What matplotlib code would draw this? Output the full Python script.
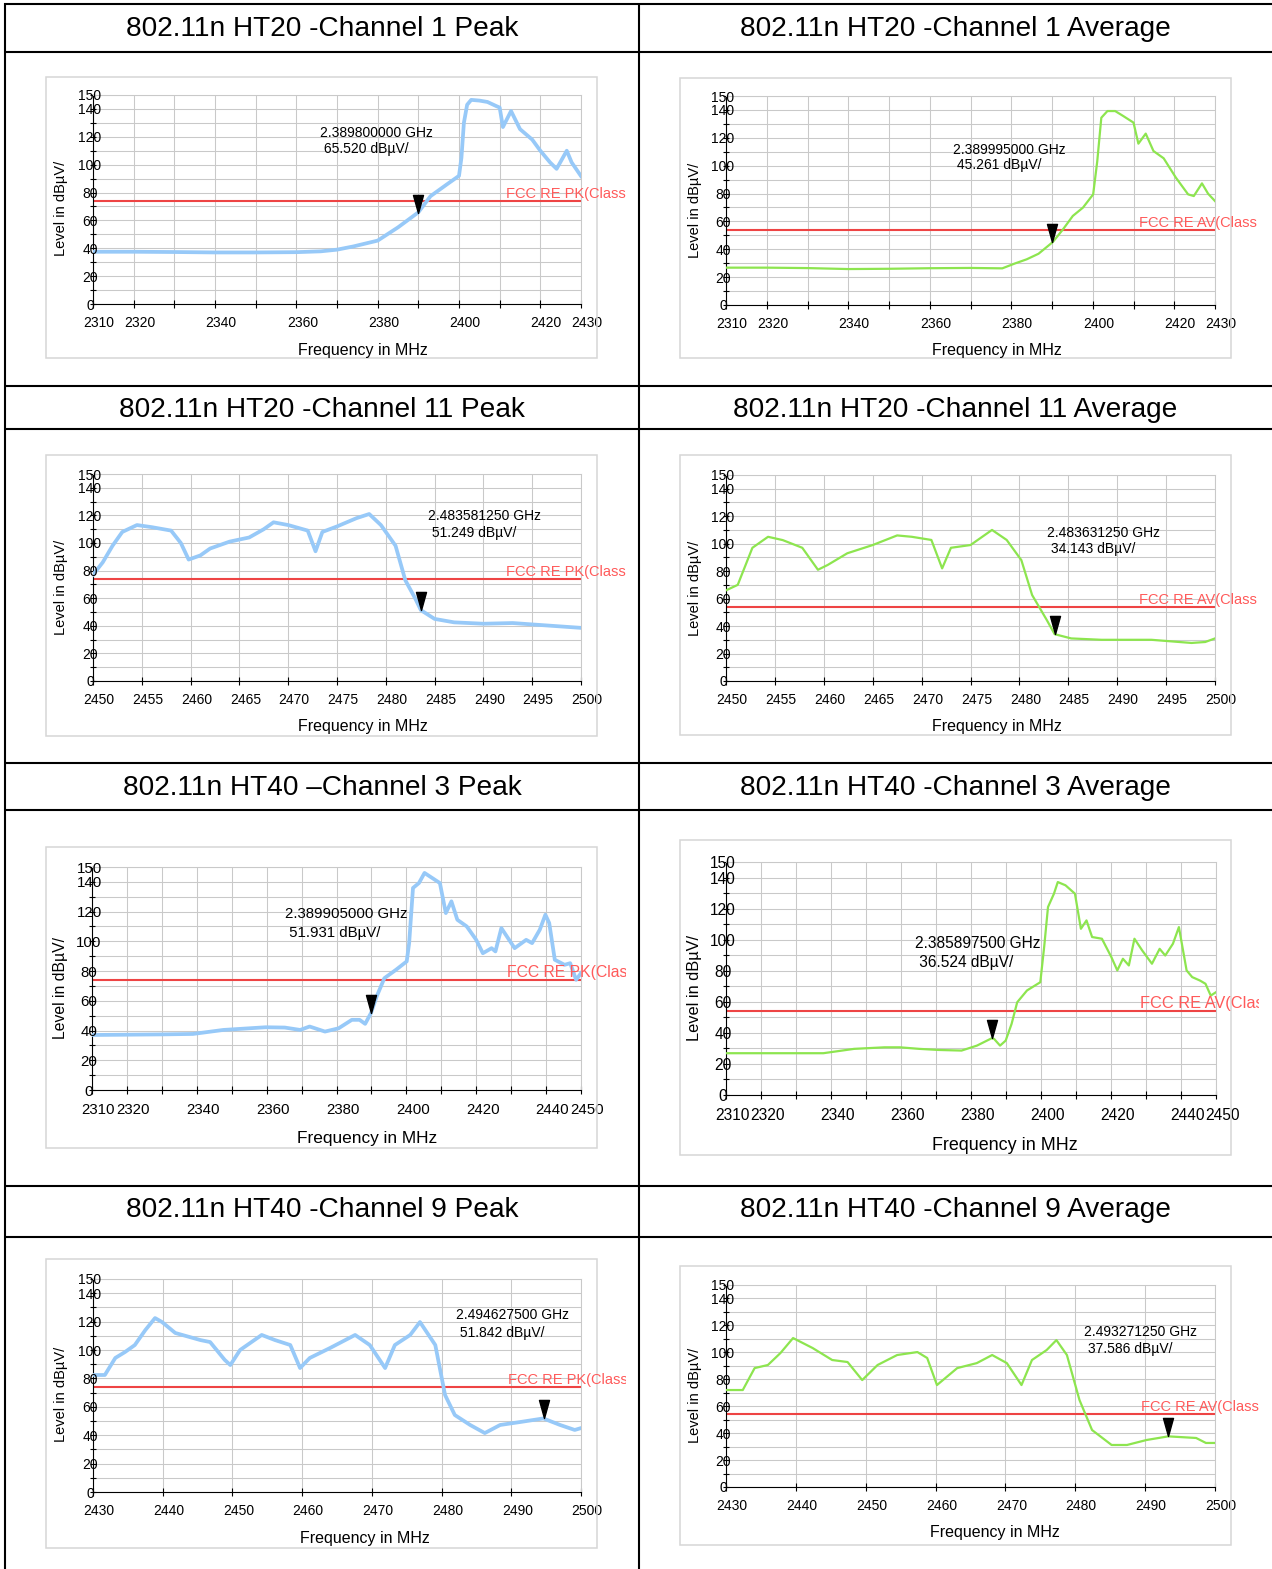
import numpy as np
import matplotlib.pyplot as plt
from matplotlib.path import Path
from matplotlib.patches import Rectangle
from matplotlib.transforms import (ScaledTranslation, Bbox, TransformedBbox,
                                   blended_transform_factory)

plt.rcParams['font.family'] = ['Liberation Sans', 'DejaVu Sans']

W, H, DPI = 1272, 1569, 100

titles = [
    '802.11n HT20 -Channel 1 Peak', '802.11n HT20 -Channel 1 Average',
    '802.11n HT20 -Channel 11 Peak', '802.11n HT20 -Channel 11 Average',
    '802.11n HT40 \u2013Channel 3 Peak', '802.11n HT40 -Channel 3 Average',
    '802.11n HT40 -Channel 9 Peak', '802.11n HT40 -Channel 9 Average',
]

# x tick labels (MHz) and y tick labels (dBuV)
xt_ht20_low = [2310, 2320, 2340, 2360, 2380, 2400, 2420, 2430]
xt_ht20_high = [2450, 2455, 2460, 2465, 2470, 2475, 2480, 2485, 2490, 2495, 2500]
xt_ht40_low = [2310, 2320, 2340, 2360, 2380, 2400, 2420, 2440, 2450]
xt_ht40_high = [2430, 2440, 2450, 2460, 2470, 2480, 2490, 2500]
yt_labels = [0, 20, 40, 60, 80, 100, 120, 140, 150]

limit_pk = 74.0
limit_av = 54.0

# measured traces: frequency in MHz, level in dBuV
ht20_ch1_pk_f = [2310, 2320, 2330, 2340, 2350, 2360, 2366, 2370, 2374, 2380, 2385, 2390,
                 2393, 2397, 2400, 2400.6, 2401.2, 2402, 2403, 2405, 2407, 2409.2, 2410,
                 2410.8, 2412.8, 2415, 2418, 2420, 2422.4, 2424, 2426.5, 2427.7, 2430]
ht20_ch1_pk_v = [37.5, 37.5, 37.3, 37.0, 37.0, 37.2, 37.8, 39.0, 41.3, 45.5, 55.0, 65.8,
                 77.4, 85.8, 92.0, 105, 130, 143, 146.5, 146, 145, 142, 141,
                 127, 138.5, 125.5, 118, 110, 101.6, 97, 110, 101.6, 91.8]

ht20_ch1_av_f = [2310, 2320, 2330, 2340, 2350, 2360, 2370, 2377.8, 2380.8, 2383.8, 2386.7,
                 2390.2, 2392.7, 2395.1, 2397.6, 2400.1, 2401.1, 2402.1, 2403.6, 2405.5,
                 2407.5, 2410, 2411.2, 2413, 2414.9, 2417.4, 2420.4, 2423.4, 2424.8,
                 2426.8, 2428.3, 2430]
ht20_ch1_av_v = [26.8, 26.8, 26.5, 25.8, 26.0, 26.4, 26.6, 26.3, 29.7, 32.8, 36.8,
                 45.2, 54.3, 63.9, 69.9, 79.4, 103, 134.4, 139.2, 139.2,
                 135.6, 130.9, 115.8, 123, 110.5, 105.3, 91.4, 79.4, 78.2,
                 87.3, 79.9, 74.6]

ht20_ch11_pk_f = [2450, 2451, 2452, 2453, 2454.5, 2456, 2458, 2459, 2459.8, 2461, 2462,
                  2464, 2466, 2467.5, 2468.5, 2470, 2472, 2472.8, 2473.5, 2475, 2477,
                  2478.3, 2479.5, 2481, 2482, 2483, 2483.6, 2485, 2487, 2490, 2493,
                  2495, 2497, 2500]
ht20_ch11_pk_v = [77, 86, 98, 108, 113, 111.5, 109, 100, 88, 91, 96,
                  101, 104, 110, 115, 113, 109, 94, 108, 112, 118,
                  121, 113, 98, 73, 60, 51.3, 45, 42.5, 41.5, 42,
                  41, 40, 38.5]

ht20_ch11_av_f = [2450, 2451.2, 2452.7, 2454.3, 2455.8, 2457.8, 2459.4, 2460.4, 2462.4,
                  2465, 2467.5, 2469, 2471, 2472.1, 2473, 2475, 2477.2, 2478.7, 2480.2,
                  2481.3, 2482.8, 2483.6, 2485.3, 2488.4, 2493.5, 2497.6, 2499, 2500]
ht20_ch11_av_v = [66, 70, 97, 105, 102.6, 97, 81, 84.5, 93,
                  99, 106, 105, 102.7, 82, 97, 99, 110, 102.7, 88,
                  62.6, 44.4, 34.1, 31, 30, 30, 27.7, 28.4, 31]

ht40_ch3_pk_f = [2310, 2320, 2330, 2338.9, 2347.6, 2359.7, 2365.2, 2369.6, 2372.3, 2376.7,
                 2380.6, 2384.4, 2386.6, 2388.2, 2389.9, 2391.5, 2393.7, 2397, 2400.1,
                 2400.8, 2401.9, 2403.6, 2405.2, 2407.4, 2409.6, 2411.3, 2412.9, 2414.6,
                 2417.3, 2420, 2421.9, 2424.4, 2425.5, 2427.2, 2431, 2434.3, 2436, 2438.2,
                 2439.8, 2440.9, 2442.5, 2445.3, 2446.9, 2448.6, 2450]
ht40_ch3_pk_v = [37, 37.2, 37.4, 37.7, 40.4, 42.2, 42, 40.4, 42.7, 39.3,
                 41.5, 47.2, 47.2, 44.5, 51.9, 62.9, 75.2, 80.8, 86.5,
                 98.8, 135.9, 139.2, 146, 142.6, 139.2, 119, 126.9, 114.5,
                 110, 101, 92, 95.4, 93.2, 108.9, 95.4, 101, 98.8, 107.8,
                 117.9, 112.3, 87.6, 84.2, 85.3, 74.1, 78.6]

ht40_ch3_av_f = [2310, 2320, 2330, 2337.8, 2346.6, 2355.3, 2359.7, 2365.2, 2370.7, 2377.3,
                 2381.7, 2385, 2385.9, 2386.6, 2388.3, 2389.9, 2391.6, 2393.2, 2396,
                 2399.8, 2400.9, 2402, 2403.7, 2404.8, 2407, 2409.7, 2411.4, 2413,
                 2414.6, 2417.4, 2420.1, 2421.8, 2423.4, 2425.1, 2426.7, 2428.9, 2431.7,
                 2433.9, 2435.5, 2437.7, 2439.4, 2441.6, 2443.2, 2445.4, 2447, 2448.5,
                 2450]
ht40_ch3_av_v = [26.9, 26.9, 26.9, 26.9, 29.7, 30.7, 30.7, 29.7, 29, 28.6,
                 31.8, 35.5, 36.5, 36.1, 31.8, 35, 45.8, 59.7, 67.3,
                 72.6, 95.2, 121, 129.6, 137.1, 135, 129.6, 107, 112.4,
                 101.7, 100.6, 88.8, 80.2, 87.7, 83.4, 100.6, 93.1, 84.5,
                 94.1, 89.8, 97.4, 108.1, 80.2, 75.9, 73.7, 71.6, 64,
                 66.2]

ht40_ch9_pk_f = [2430, 2431.7, 2433.2, 2434.6, 2436, 2437.5, 2438.9, 2439.9, 2441.8,
                 2445.4, 2446.8, 2448.9, 2449.7, 2451.1, 2454.2, 2456.1, 2458.3, 2459.7,
                 2461.1, 2464, 2467.6, 2469.7, 2471.9, 2473.3, 2475.5, 2476.9, 2479.1,
                 2480.5, 2481.9, 2484.1, 2486.2, 2488.4, 2491.3, 2494.6, 2497, 2499.1,
                 2500]
ht40_ch9_pk_v = [82.4, 82.4, 94.4, 98.6, 103.5, 114, 122.5, 119.7, 112,
                 107, 105.6, 93, 89.4, 100, 110.6, 107, 103.5, 87.3,
                 94.4, 101.4, 110.6, 103.5, 87.3, 103.5, 110.6, 119.7, 103.5,
                 68.3, 54.2, 47.2, 41.5, 47.2, 49.3, 51.8, 47.2, 43.7,
                 45]

ht40_ch9_av_f = [2430, 2432.4, 2434.1, 2436, 2437.8, 2439.6, 2442.4, 2445.2, 2447.4,
                 2449.5, 2451.7, 2454.5, 2457.4, 2458.8, 2460.2, 2463.1, 2465.9, 2468.1,
                 2470.2, 2472.3, 2473.8, 2475.9, 2477.3, 2478.8, 2480.6, 2482.4, 2485.2,
                 2487.4, 2490.2, 2493.3, 2497.3, 2498.7, 2500]
ht40_ch9_av_v = [72, 72, 88.3, 90.6, 99.5, 110.6, 103.2, 94.3, 92.8,
                 79.4, 90.6, 98, 100.2, 95.8, 75.7, 88.3, 92, 98,
                 92, 75.7, 94.3, 101.7, 109.1, 98, 64.6, 42.3, 31.2,
                 31.2, 34.9, 37.6, 36.4, 32.7, 32.7]

# marker readouts: (MHz, dBuV)
mk_ht20_ch1_pk = (2389.8, 65.520)
mk_ht20_ch1_av = (2389.995, 45.261)
mk_ht20_ch11_pk = (2483.58125, 51.249)
mk_ht20_ch11_av = (2483.63125, 34.143)
mk_ht40_ch3_pk = (2389.905, 51.931)
mk_ht40_ch3_av = (2385.8975, 36.524)
mk_ht40_ch9_pk = (2494.6275, 51.842)
mk_ht40_ch9_av = (2493.27125, 37.586)

BLUE = '#97c9f8'
GREEN = '#8de54f'
RED = '#ee4444'
RED_TXT = '#ff5a5a'
GRID = '#c9c9c9'
BOX = '#d6d6d6'

PK = dict(color=BLUE, lw=2.7, limit=limit_pk, lim_label='FCC RE PK(Class')
AV = dict(color=GREEN, lw=1.6, limit=limit_av, lim_label='FCC RE AV(Class')

# pixel layout of each panel: axes / frame (l, t, r, b), text anchors, font scale
panels = [
    dict(PK, f=ht20_ch1_pk_f, v=ht20_ch1_pk_v, mk=mk_ht20_ch1_pk, xt=xt_ht20_low, step=10,
         axes=(93, 95, 581, 304), box=(46, 77, 597, 358), ann=(320, 137, 153),
         fcc_x=506, clip=626, ylab=(61, 208), xlab=(363, 350), s=1.0),
    dict(AV, f=ht20_ch1_av_f, v=ht20_ch1_av_v, mk=mk_ht20_ch1_av, xt=xt_ht20_low, step=10,
         axes=(726, 96, 1215, 305), box=(680, 78, 1231, 358), ann=(953, 154, 169),
         fcc_x=1139, clip=1259, ylab=(695, 210), xlab=(997, 350), s=1.0),
    dict(PK, f=ht20_ch11_pk_f, v=ht20_ch11_pk_v, mk=mk_ht20_ch11_pk, xt=xt_ht20_high, step=5,
         axes=(93, 474, 581, 681), box=(46, 455, 597, 736), ann=(428, 520, 537),
         fcc_x=506, clip=626, ylab=(61, 587), xlab=(363, 727), s=1.0),
    dict(AV, f=ht20_ch11_av_f, v=ht20_ch11_av_v, mk=mk_ht20_ch11_av, xt=xt_ht20_high, step=5,
         axes=(726, 475, 1215, 681), box=(680, 455, 1231, 735), ann=(1047, 537, 553),
         fcc_x=1139, clip=1259, ylab=(695, 588), xlab=(997, 726), s=1.0),
    dict(PK, f=ht40_ch3_pk_f, v=ht40_ch3_pk_v, mk=mk_ht40_ch3_pk, xt=xt_ht40_low, step=10,
         axes=(92, 867, 581, 1090), box=(46, 847, 597, 1148), ann=(285, 918, 937),
         fcc_x=507, clip=626, ylab=(61, 988), xlab=(367, 1138), s=1.08),
    dict(AV, f=ht40_ch3_av_f, v=ht40_ch3_av_v, mk=mk_ht40_ch3_av, xt=xt_ht40_low, step=10,
         axes=(726, 862, 1216, 1095), box=(680, 840, 1231, 1155), ann=(915, 948, 967),
         fcc_x=1140, clip=1259, ylab=(694, 988), xlab=(1005, 1145), s=1.12),
    dict(PK, f=ht40_ch9_pk_f, v=ht40_ch9_pk_v, mk=mk_ht40_ch9_pk, xt=xt_ht40_high, step=10,
         axes=(93, 1279, 581, 1492), box=(46, 1259, 597, 1548), ann=(456, 1319, 1337),
         fcc_x=508, clip=626, ylab=(61, 1394), xlab=(365, 1538), s=1.0),
    dict(AV, f=ht40_ch9_av_f, v=ht40_ch9_av_v, mk=mk_ht40_ch9_av, xt=xt_ht40_high, step=10,
         axes=(726, 1285, 1215, 1487), box=(680, 1266, 1231, 1545), ann=(1084, 1336, 1353),
         fcc_x=1141, clip=1259, ylab=(695, 1395), xlab=(995, 1532), s=1.0),
]

fig = plt.figure(figsize=(W / DPI, H / DPI), dpi=DPI)


def frac_rect(l, t, r, b):
    return [l / W, 1 - b / H, (r - l) / W, (b - t) / H]


def shift(dx, dy):
    return ScaledTranslation(dx / DPI, dy / DPI, fig.dpi_scale_trans)


# downward marker triangle with its tip on the readout point
tri = Path([(-5, 18), (5, 18), (0, 0), (-5, 18)],
           [Path.MOVETO, Path.LINETO, Path.LINETO, Path.CLOSEPOLY])

for p in panels:
    s = p['s']
    ax = fig.add_axes(frac_rect(*p['axes']))
    ax.set_facecolor('none')
    f0, f1 = p['xt'][0], p['xt'][-1]
    ax.set_xlim(f0, f1)
    ax.set_ylim(0, 150)
    ax.set_xticks(np.arange(f0, f1 + 0.1, p['step']))
    ax.set_yticks(np.arange(0, 151, 10))
    ax.grid(True, color=GRID, lw=0.75)
    ax.set_axisbelow(True)
    ax.tick_params(direction='inout', width=0.8, labelbottom=False, labelleft=False)
    ax.tick_params(axis='x', length=6)
    ax.tick_params(axis='y', length=5)
    for side in ('top', 'right'):
        ax.spines[side].set_color(GRID)
        ax.spines[side].set_linewidth(0.75)
    for side in ('left', 'bottom'):
        ax.spines[side].set_linewidth(0.8)

    ax.axhline(p['limit'], color=RED, lw=1.5, zorder=2)
    ax.plot(p['f'], p['v'], color=p['color'], lw=p['lw'], zorder=3,
            solid_joinstyle='round')
    mf, mv = p['mk']
    ax.plot([mf], [mv], marker=tri, ms=26, color='black', lw=0, zorder=4, clip_on=False)

    xtr = blended_transform_factory(ax.transData, ax.transAxes) + shift(6 * s, -12 * s)
    for t in p['xt']:
        ax.text(t, 0, str(t), transform=xtr, ha='center', va='top', fontsize=10 * s)
    ytr = blended_transform_factory(ax.transAxes, ax.transData) + shift(-3, 0)
    for t in yt_labels:
        ax.text(0, t, str(t), transform=ytr, ha='center', va='center_baseline',
                fontsize=10 * s)

    # limit line label, cut off at the cell edge
    ltr = blended_transform_factory(fig.transFigure, ax.transData) + shift(0, 3)
    lab = fig.text(p['fcc_x'] / W, p['limit'], p['lim_label'], transform=ltr,
                   color=RED_TXT, fontsize=10.5 * s, ha='left', va='baseline')
    lab.set_clip_box(TransformedBbox(Bbox.from_extents(0, 0, p['clip'] / W, 1),
                                     fig.transFigure))
    lab.set_clip_on(True)

# overlay in pixel coordinates for the table, frames and free text
ov = fig.add_axes([0, 0, 1, 1])
ov.set_xlim(0, W)
ov.set_ylim(H, 0)
ov.axis('off')

for y in [4, 52, 386, 429, 763, 810, 1186, 1237]:
    ov.plot([4, W + 5], [y, y], color='black', lw=1.5, solid_capstyle='butt')
for x in [5, 639]:
    ov.plot([x, x], [3, H + 5], color='black', lw=1.5, solid_capstyle='butt')

title_base = [36, 417, 795, 1217]
for i, title in enumerate(titles):
    cx = 322 if i % 2 == 0 else 955.5
    ov.text(cx, title_base[i // 2], title, ha='center', va='baseline', fontsize=20.2)

for p in panels:
    s = p['s']
    l, t, r, b = p['box']
    ov.add_patch(Rectangle((l, t), r - l, b - t, fill=False, ec=BOX, lw=1.1))
    mf, mv = p['mk']
    ax_x, b1, b2 = p['ann']
    ov.text(ax_x, b1, f'{mf / 1000:.9f} GHz', ha='left', va='baseline', fontsize=10 * s)
    ov.text(ax_x, b2, f' {mv:.3f} dB\u00b5V/', ha='left', va='baseline', fontsize=10 * s)
    ov.text(*p['ylab'], 'Level in dB\u00b5V/', rotation=90, ha='center', va='center',
            fontsize=10.5 * s)
    ov.text(*p['xlab'], 'Frequency in MHz', ha='center', va='center', fontsize=11.5 * s)

fig.savefig('out.png', dpi=DPI)
